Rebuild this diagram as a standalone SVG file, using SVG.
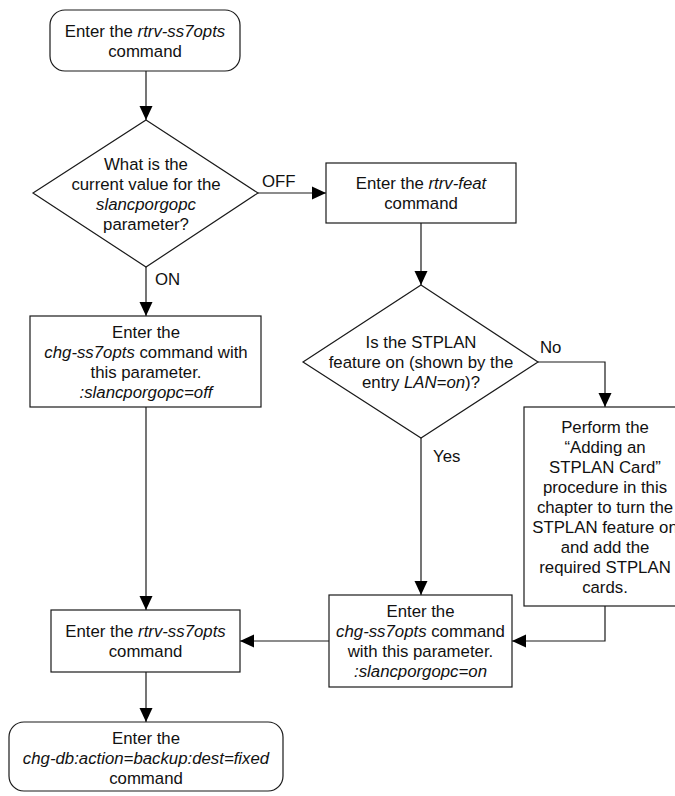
<svg xmlns="http://www.w3.org/2000/svg" width="675" height="796" viewBox="0 0 675 796">
  <style>
    .box { fill: #ffffff; stroke: #1a1a1a; stroke-width: 1.2; }
    .lbl { font-family: "Liberation Sans", Arial, sans-serif; font-size: 16.8px; fill: #111111; text-anchor: middle; }
    .lbl-l { font-family: "Liberation Sans", Arial, sans-serif; font-size: 16.8px; fill: #111111; }
    .it { font-style: italic; }
    .wire { fill: none; stroke: #1a1a1a; stroke-width: 1.2; }
  </style>
  <defs>
    <marker id="arrow" markerUnits="userSpaceOnUse" markerWidth="14" markerHeight="14" viewBox="0 0 14 14" refX="14" refY="7" orient="auto">
      <path d="M0,0.5 L14,7 L0,13.5 Z" fill="#000000"/>
    </marker>
  </defs>
  <rect width="675" height="796" fill="#ffffff"/>

  <!-- connectors -->
  <g id="connectors">
    <path class="wire" d="M146,71 V120" marker-end="url(#arrow)"/>
    <path class="wire" d="M258,193 H326" marker-end="url(#arrow)"/>
    <path class="wire" d="M146,267 V316" marker-end="url(#arrow)"/>
    <path class="wire" d="M421,223 V285" marker-end="url(#arrow)"/>
    <path class="wire" d="M538,362 H605 V407" marker-end="url(#arrow)"/>
    <path class="wire" d="M421,438 V595" marker-end="url(#arrow)"/>
    <path class="wire" d="M605,606 V641 H512" marker-end="url(#arrow)"/>
    <path class="wire" d="M146,407 V610" marker-end="url(#arrow)"/>
    <path class="wire" d="M329,641 H240" marker-end="url(#arrow)"/>
    <path class="wire" d="M146,672 V722" marker-end="url(#arrow)"/>
    <text class="lbl-l" x="262" y="187">OFF</text>
    <text class="lbl-l" x="155" y="285">ON</text>
    <text class="lbl-l" x="540" y="353">No</text>
    <text class="lbl-l" x="433" y="462">Yes</text>
  </g>

  <!-- start: retrieve ss7 options -->
  <g id="start">
    <rect class="box" x="50" y="10" width="190" height="61" rx="15" ry="15"/>
    <text class="lbl" x="145" y="37">Enter the <tspan class="it">rtrv-ss7opts</tspan></text>
    <text class="lbl" x="145" y="57">command</text>
  </g>

  <!-- decision: current slancporgopc value -->
  <g id="check-value">
    <polygon class="box" points="146,120 258,193 146,267 33,193"/>
    <text class="lbl" x="146" y="170">What is the</text>
    <text class="lbl" x="146" y="190">current value for the</text>
    <text class="lbl it" x="146" y="210">slancporgopc</text>
    <text class="lbl" x="146" y="230">parameter?</text>
  </g>

  <!-- retrieve features -->
  <g id="rtrv-feat">
    <rect class="box" x="326" y="163" width="190" height="60"/>
    <text class="lbl" x="421" y="189">Enter the <tspan class="it">rtrv-feat</tspan></text>
    <text class="lbl" x="421" y="209">command</text>
  </g>

  <!-- turn slancporgopc off -->
  <g id="set-off">
    <rect class="box" x="30" y="316" width="231" height="91"/>
    <text class="lbl" x="146" y="337.5">Enter the</text>
    <text class="lbl" x="146" y="357.5"><tspan class="it">chg-ss7opts</tspan> command with</text>
    <text class="lbl" x="146" y="377.5">this parameter.</text>
    <text class="lbl it" x="146" y="397.5">:slancporgopc=off</text>
  </g>

  <!-- decision: STPLAN feature on -->
  <g id="check-stplan">
    <polygon class="box" points="421,285 538,362 421,438 303,362"/>
    <text class="lbl" x="421" y="348">Is the STPLAN</text>
    <text class="lbl" x="421" y="368">feature on (shown by the</text>
    <text class="lbl" x="421" y="388">entry <tspan class="it">LAN=on</tspan>)?</text>
  </g>

  <!-- add STPLAN card procedure -->
  <g id="add-stplan">
    <rect class="box" x="524" y="407" width="162" height="199"/>
    <text class="lbl" x="605" y="432.5">Perform the</text>
    <text class="lbl" x="605" y="452.5">“Adding an</text>
    <text class="lbl" x="605" y="472.5">STPLAN Card”</text>
    <text class="lbl" x="605" y="492.5">procedure in this</text>
    <text class="lbl" x="605" y="512.5">chapter to turn the</text>
    <text class="lbl" x="605" y="532.5">STPLAN feature on</text>
    <text class="lbl" x="605" y="552.5">and add the</text>
    <text class="lbl" x="605" y="572.5">required STPLAN</text>
    <text class="lbl" x="605" y="592.5">cards.</text>
  </g>

  <!-- turn slancporgopc on -->
  <g id="set-on">
    <rect class="box" x="329" y="595" width="183" height="92"/>
    <text class="lbl" x="420.5" y="617">Enter the</text>
    <text class="lbl" x="420.5" y="637"><tspan class="it">chg-ss7opts</tspan> command</text>
    <text class="lbl" x="420.5" y="657">with this parameter.</text>
    <text class="lbl it" x="420.5" y="677">:slancporgopc=on</text>
  </g>

  <!-- verify ss7 options -->
  <g id="verify">
    <rect class="box" x="51" y="610" width="189" height="62"/>
    <text class="lbl" x="145.5" y="637">Enter the <tspan class="it">rtrv-ss7opts</tspan></text>
    <text class="lbl" x="145.5" y="657">command</text>
  </g>

  <!-- end: back up database -->
  <g id="backup">
    <rect class="box" x="9" y="722" width="274" height="69" rx="15" ry="15"/>
    <text class="lbl" x="146" y="744">Enter the</text>
    <text class="lbl it" x="146" y="764">chg-db:action=backup:dest=fixed</text>
    <text class="lbl" x="146" y="784">command</text>
  </g>
</svg>
